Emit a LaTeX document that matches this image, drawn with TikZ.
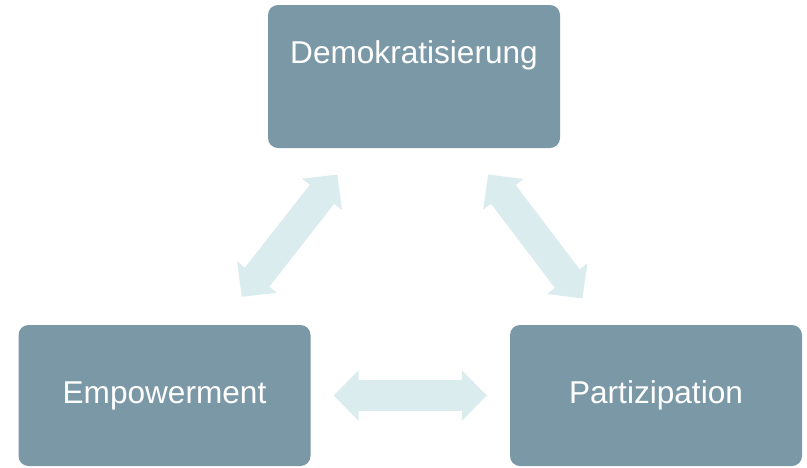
\documentclass[tikz,border=0pt]{standalone}
\usepackage{fontspec}
\setmainfont{Liberation Sans}
\usetikzlibrary{arrows.meta}

\definecolor{boxgray}{HTML}{7B98A6}
\definecolor{linkblue}{HTML}{DAECEE}

\tikzset{
  box/.style={fill=boxgray, rounded corners=10pt, text=white,
    font=\fontsize{31.6}{38}\selectfont, inner sep=0pt,
    minimum width=292pt, minimum height=141pt},
  tip/.tip={Triangle[length=25pt, width=50.5pt, line width=1.5pt]},
  link/.style={draw=linkblue, line width=31pt, tip-tip}
}

\begin{document}
\begin{tikzpicture}[x=1pt, y=-1pt]
      \useasboundingbox (0,0) rectangle (807,467);
      % the three boxes
      \node[box, minimum height=143pt, text height=58.3pt, text depth=84.7pt]
        (dem) at (414,76.5) {Demokratisierung};
      \node[box] (emp) at (164.5,395.5) {Empowerment};
      \node[box] (par) at (656,395.5) {Partizipation};
      % double arrows between them
      \begin{scope}[link]
        \draw[shorten <=35.5pt, shorten >=33.5pt] (emp) to (dem);
        \draw[shorten <=33pt, shorten >=33pt] (par) to (dem);
        \draw[shorten <=23pt, shorten >=23pt] (emp) to (par);
      \end{scope}
    \end{tikzpicture}
\end{document}
